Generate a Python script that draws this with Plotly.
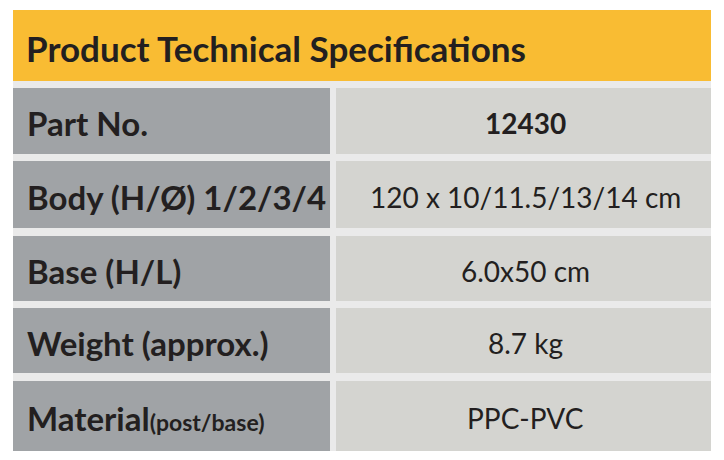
import plotly.graph_objects as go

title = "Product Technical Specifications"
labels = ["Part No.", "Body (H/Ø) 1/2/3/4", "Base (H/L)", "Weight (approx.)",
          "Material<span style='font-size:23px'>(post/base)</span>"]
values = ["<b>12430</b>", "120 x 10/11.5/13/14 cm", "6.0x50 cm", "8.7 kg", "PPC-PVC"]
row_top = [88, 161, 236, 308, 381]
row_bot = [154, 228, 301, 373, 451]

W, H = 724, 460
OFF = 8  # page body margin
X0, XM, XM2, X1 = 13, 330, 336, 711

fig = go.Figure()
shapes = [
    dict(type="rect", x0=X0, x1=X1, y0=10, y1=81, fillcolor="#F9BC33", line_width=0, layer="below"),
    dict(type="rect", x0=X0, x1=X1, y0=81, y1=451, fillcolor="#EAEAEA", line_width=0, layer="below"),
]
for t, b, lab, val in zip(row_top, row_bot, labels, values):
    shapes.append(dict(type="rect", x0=X0, x1=XM, y0=t, y1=b, fillcolor="#A0A3A6", line_width=0, layer="below"))
    shapes.append(dict(type="rect", x0=XM2, x1=X1, y0=t, y1=b, fillcolor="#D4D4D0", line_width=0, layer="below"))
    fig.add_annotation(x=25, y=(t + b) / 2 + 2, text=f"<b>{lab}</b>", xanchor="left", showarrow=False,
                       font=dict(family="Lato", size=33, color="#231F20"))
    fig.add_annotation(x=(XM2 + X1) / 2 + 2, y=(t + b) / 2 + 2, text=val, showarrow=False,
                       font=dict(family="Lato", size=28, color="#231F20"))

fig.add_annotation(x=24, y=48, text=f"<b>{title}</b>", xanchor="left", showarrow=False,
                   font=dict(family="Lato", size=35, color="#231F20"))

fig.update_layout(shapes=shapes, width=W, height=H, margin=dict(l=0, r=0, t=0, b=0),
                  paper_bgcolor="white", plot_bgcolor="white",
                  xaxis=dict(range=[OFF, W + OFF], visible=False, fixedrange=True),
                  yaxis=dict(range=[H + OFF, OFF], visible=False, fixedrange=True))
fig.write_html("out.html")
